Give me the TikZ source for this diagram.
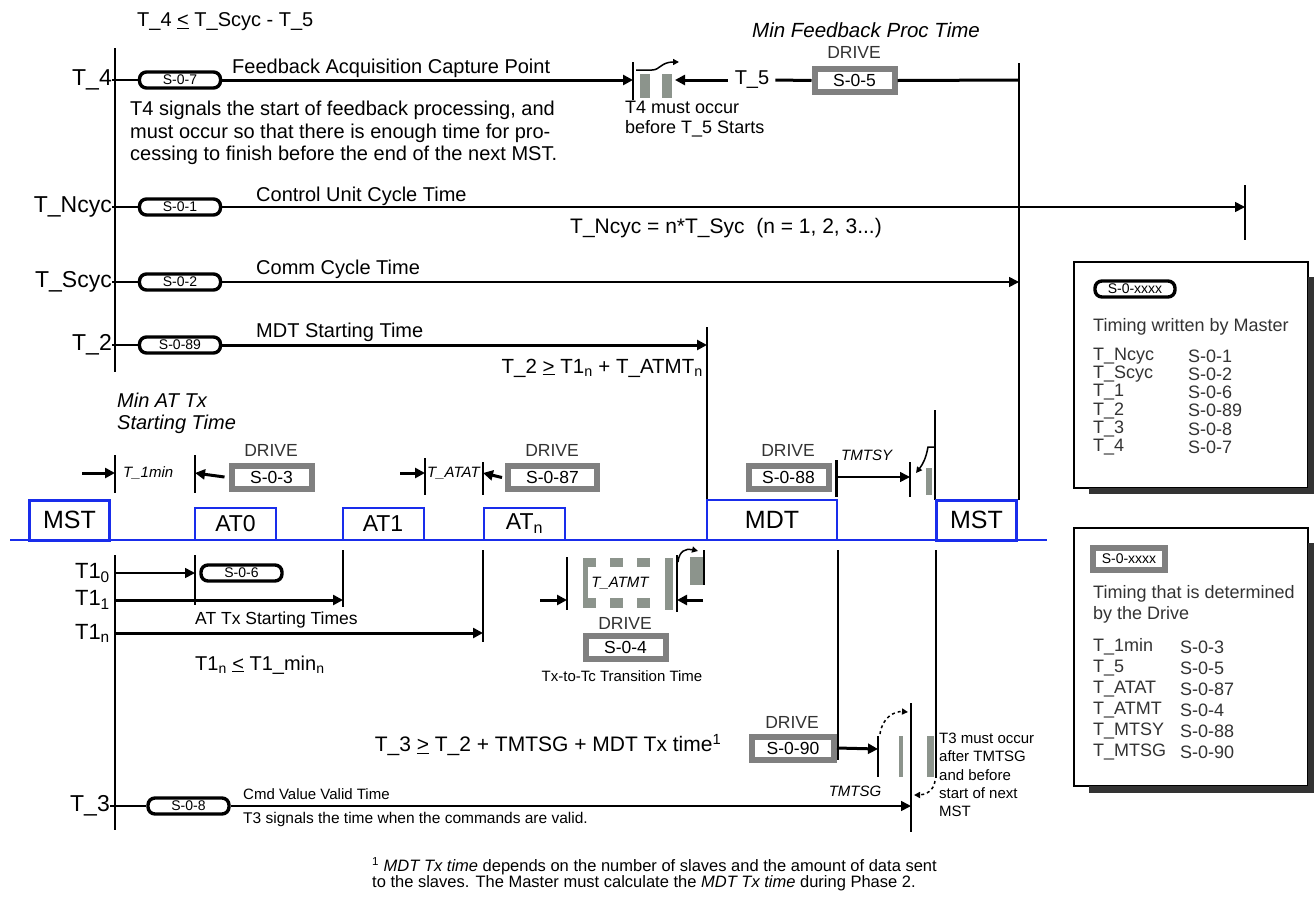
\documentclass[tikz,border=0pt]{standalone}
\usepackage{fontspec}
\setmainfont{Liberation Sans}
\usetikzlibrary{arrows.meta}
\definecolor{busblue}{RGB}{25,45,235}
\definecolor{drvgray}{RGB}{128,128,128}
\definecolor{blockgray}{RGB}{140,148,140}
\begin{document}
\begin{tikzpicture}[x=1pt, y=-1pt,
    lbl/.style={inner sep=0pt, anchor=east, font=\fontsize{23}{25}\selectfont},
    txt/.style={inner sep=0pt, anchor=west, font=\fontsize{20}{22.5}\selectfont},
    sml/.style={inner sep=0pt, anchor=west, font=\fontsize{15}{18}\selectfont},
    lgd/.style={inner sep=0pt, anchor=west, font=\fontsize{18}{21}\selectfont, text=black!80},
    ital/.style={inner sep=0pt, anchor=west, font=\fontsize{15}{17}\selectfont\itshape},
    drv/.style={inner sep=0pt, font=\fontsize{17.5}{18}\selectfont, text=black!80},
    badge/.style={draw, line width=3.4pt, rounded corners=7pt, minimum width=81pt, minimum height=16pt, inner sep=0pt, font=\fontsize{14}{14}\selectfont},
    drvbox/.style={draw=drvgray, line width=6pt, fill=white, minimum width=80pt, minimum height=23pt, inner sep=0pt, font=\fontsize{17.5}{18}\selectfont},
    frm/.style={draw=busblue, line width=2pt, inner sep=0pt, minimum width=81pt, minimum height=32pt, font=\fontsize{23}{23}\selectfont},
    mst/.style={frm, line width=3pt, minimum width=80pt, minimum height=40pt, font=\fontsize{25}{25}\selectfont},
    tk/.style={line width=2.4pt},
    tkl/.style={line width=1.5pt},
    thk/.style={line width=3pt, -{Triangle[length=10pt, width=10pt]}},
    thn/.style={line width=1.6pt, -{Triangle[length=10pt, width=10pt]}},
    curl/.style={line width=1.5pt, -{Triangle[length=6pt, width=6pt]}}]
  \useasboundingbox (0,0) rectangle (1314,911);
  \fill[white] (0,0) rectangle (1314,911);
  % 主时间轴
  \draw[tk] (115,48) -- (115,372);
  \draw[tk] (115,555) -- (115,830);
  \node[txt] (f45) at (137,22) {T\_4 \underline{<} T\_Scyc - T\_5};
  \node[txt, anchor=center, font=\fontsize{20.5}{22}\selectfont\itshape] (mfp) at (866,30) {Min Feedback Proc Time};
  % T_4
  \node[lbl] (l4) at (112,80) {T\_4};
  \node[badge] (b4) at (180,80) {S-0-7};
  \coordinate (k4) at (633,80);
  \draw[line width=2pt] (l4.east) -- (b4);
  \draw[thk] (b4) -- (k4);
  \draw[tk] (633,62) -- (633,100);
  \node[txt, anchor=base west] (n4) at (232,73) {Feedback Acquisition Capture Point};
  \fill[blockgray] (640,74) rectangle (650,98);
  \fill[blockgray] (662,74) rectangle (672,98);
  \draw[curl] (636,70) -- (652,70) .. controls (660,70) and (661,62) .. (679,62);
  \node[txt, anchor=north west, align=left, font=\fontsize{18}{20}\selectfont] (w4) at (625,101) {T4 must occur\\before T\_5 Starts};
  \node[txt, anchor=center] (t5) at (752,80) {T\_5};
  \coordinate (k5) at (675,80);
  \draw[thk] ([xshift=-7pt]t5.west) -- (k5);
  \node[drvbox] (d5) at (854.5,80.5) {S-0-5};
  \node[drv] (dr5) at (854,52) {DRIVE};
  \coordinate (r4) at (1019,80);
  \draw[line width=3pt] ([xshift=6pt]t5.east) -- (d5.west);
  \draw[line width=3pt] (d5.east) -- (r4);
  \draw[tk] (1019,63) -- (1019,500);
  \node[txt, anchor=north west, align=left] (s4) at (130,101) {T4 signals the start of feedback processing, and\\must occur so that there is enough time for pro-\\cessing to finish before the end of the next MST.};
  % T_Ncyc
  \node[lbl] (lN) at (112,207) {T\_Ncyc};
  \node[badge] (bN) at (180,207) {S-0-1};
  \coordinate (kN) at (1245,207);
  \draw[line width=1.6pt] (lN.east) -- (bN);
  \draw[thn] (bN) -- (kN);
  \draw[tk] (1245,185) -- (1245,240);
  \node[txt, anchor=base west] (nN) at (256,201) {Control Unit Cycle Time};
  \node[txt, font=\fontsize{21}{22}\selectfont] (fN) at (570,228) {T\_Ncyc = n*T\_Syc\ \ (n = 1, 2, 3...)};
  % T_Scyc
  \node[lbl] (lS) at (112,282) {T\_Scyc};
  \node[badge] (bS) at (180,282) {S-0-2};
  \coordinate (kS) at (1019,282);
  \draw[line width=1.6pt] (lS.east) -- (bS);
  \draw[thn] (bS) -- (kS);
  \node[txt, anchor=base west] (nS) at (256,274) {Comm Cycle Time};
  % T_2
  \node[lbl] (l2) at (112,345) {T\_2};
  \node[badge] (b2) at (180,345) {S-0-89};
  \coordinate (k2) at (707,345);
  \draw[line width=2pt] (l2.east) -- (b2);
  \draw[thk] (b2) -- (k2);
  \draw[tk] (707,327) -- (707,500);
  \node[txt, anchor=base west] (n2) at (256,337) {MDT Starting Time};
  \node[txt, anchor=east, font=\fontsize{20.5}{22}\selectfont] (f2) at (703,368) {T\_2 \underline{>} T1\textsubscript{n} + T\_ATMT\textsubscript{n}};
  % 总线上方
  \node[txt, anchor=north west, align=left, font=\fontsize{20}{22}\selectfont\itshape] (mat) at (117,393) {Min AT Tx\\Starting Time};
  \draw[tk] (115,455) -- (115,493);
  \coordinate (a1) at (82,473);
  \coordinate (k1a) at (115,473);
  \draw[thk] (a1) -- (k1a);
  \node[ital] (t1m) at (123,473) {T\_1min};
  \draw[tk] (195,455) -- (195,493);
  \coordinate (k1b) at (195,473);
  \node[drvbox] (d3) at (271.5,477) {S-0-3};
  \node[drv] (dr3) at (271,450) {DRIVE};
  \draw[thk] ([xshift=-4pt]d3.west) -- (k1b);
  \coordinate (a2) at (400,473);
  \coordinate (k2a) at (425,473);
  \draw[thk] (a2) -- (k2a);
  \draw[tkl] (425,458) -- (425,495);
  \node[ital] (tat) at (427,473) {T\_ATAT};
  \draw[tkl] (483,462) -- (483,495);
  \coordinate (k2b) at (483,473);
  \node[drvbox, minimum width=89pt] (d87) at (552.5,477.5) {S-0-87};
  \node[drv] (dr87) at (552,450) {DRIVE};
  \draw[thk] ([xshift=-3pt]d87.west) -- (k2b);
  \node[drvbox] (d88) at (788.5,477.5) {S-0-88};
  \node[drv] (dr88) at (788,450) {DRIVE};
  \draw[line width=3pt] (836,460) -- (836,497);
  \coordinate (k3a) at (836,477);
  \coordinate (k3b) at (910,477);
  \draw[thn, line width=1.5pt] (k3a) -- (k3b);
  \draw[tk] (910,462) -- (910,497);
  \node[ital] (tsy) at (841,455) {TMTSY};
  \fill[blockgray] (926,468) rectangle (932,495);
  \draw[tk] (935,410) -- (935,500);
  \draw[curl] (935,447) -- (928,447) .. controls (926,458) and (923,464) .. (916,473);
  % 总线与报文
  \draw[busblue, line width=2.5pt] (10,540) -- (1047,540);
  \node[mst] (ms1) at (69.5,520) {MST};
  \node[frm] (at0) at (235.5,523.5) {AT0};
  \node[frm] (at1) at (383,523.5) {AT1};
  \node[frm] (atn) at (524.5,523.5) {AT\textsubscript{n}};
  \node[frm, minimum width=130pt, minimum height=40pt, font=\fontsize{25}{25}\selectfont] (mdt) at (772,520) {MDT};
  \node[mst] (ms2) at (976.5,520) {MST};
  % T1 各行
  \node[lbl, font=\fontsize{22}{24}\selectfont] (l10) at (110,573) {T1\textsubscript{0}};
  \coordinate (m10) at (115,573);
  \coordinate (k10) at (195,573);
  \draw[thn] (m10) -- (k10);
  \draw[tkl] (195,555) -- (195,605);
  \node[badge] (b6) at (241.5,573) {S-0-6};
  \node[lbl, font=\fontsize{22}{24}\selectfont] (l11) at (110,600) {T1\textsubscript{1}};
  \coordinate (m11) at (115,600);
  \coordinate (k11) at (343,600);
  \draw[thk] (m11) -- (k11);
  \draw[tk] (343,550) -- (343,607);
  \node[lbl, font=\fontsize{22}{24}\selectfont] (l1n) at (110,633) {T1\textsubscript{n}};
  \coordinate (m1n) at (115,633);
  \coordinate (k1n) at (483,633);
  \draw[thk] (m1n) -- (k1n);
  \draw[tk] (483,550) -- (483,642);
  \node[txt, font=\fontsize{17.5}{20}\selectfont] (atx) at (195,620) {AT Tx Starting Times};
  \node[txt] (f1) at (195,665) {T1\textsubscript{n} \underline{<} T1\_min\textsubscript{n}};
  % T_ATMT
  \coordinate (a4) at (540,600);
  \coordinate (k4a) at (567,600);
  \draw[thk] (a4) -- (k4a);
  \draw[tk] (567,557) -- (567,610);
  \foreach \x in {583,610,637} {
    \fill[blockgray] (\x,558) rectangle ++(13,9);
    \fill[blockgray] (\x,598) rectangle ++(13,10);
  }
  \fill[blockgray] (583,567) rectangle (588,598);
  \node[ital, anchor=center] (tam) at (620,583) {T\_ATMT};
  \fill[blockgray] (665,558) rectangle (673,610);
  \draw[tk] (677,555) -- (677,612);
  \coordinate (a5) at (703,600);
  \coordinate (k4b) at (677,600);
  \draw[thk] (a5) -- (k4b);
  \fill[blockgray] (690,557) rectangle (703,585);
  \draw[tk] (704,550) -- (704,585);
  \draw[curl] (678,562) .. controls (679,551) and (686,548) .. (698,551);
  \node[drv] (dr4) at (625,623) {DRIVE};
  \node[drvbox] (d4) at (625.5,647.5) {S-0-4};
  \node[sml, anchor=center] (ttc) at (622,676) {Tx-to-Tc Transition Time};
  % MDT 之后
  \draw[tkl] (838,550) -- (838,760);
  \draw[tk] (936,550) -- (936,778);
  \node[txt, anchor=center, font=\fontsize{21}{22}\selectfont] (f3) at (548,745) {T\_3 \underline{>} T\_2 + TMTSG + MDT Tx time\textsuperscript{1}};
  \node[drv] (dr90) at (792,722) {DRIVE};
  \node[drvbox, minimum width=82pt] (d90) at (793,748) {S-0-90};
  \coordinate (k90) at (878,749);
  \draw[thk] (d90.east) -- (k90);
  \draw[tk] (878,736) -- (878,777);
  \node[ital, anchor=center] (tsg) at (855,791) {TMTSG};
  \fill[blockgray] (899,736) rectangle (903,777);
  \draw[curl, dashed] (880,734) .. controls (882,718) and (894,711) .. (908,712);
  \draw[tk] (911,703) -- (911,832);
  \fill[blockgray] (927,736) rectangle (934,777);
  \draw[curl, dashed] (935,781) .. controls (934,790) and (926,795) .. (914,795);
  \node[sml, anchor=north west, align=left, font=\fontsize{15}{18.3}\selectfont] (w3) at (939,733) {T3 must occur\\after TMTSG\\and before\\start of next\\MST};
  % T_3
  \node[lbl] (l3) at (110,806) {T\_3};
  \node[badge] (b8) at (188.5,806) {S-0-8};
  \coordinate (k3) at (911,806);
  \draw[line width=1.6pt] (l3.east) -- (b8);
  \draw[thn] (b8) -- (k3);
  \node[sml] (n3) at (243,794) {Cmd Value Valid Time};
  \node[sml, font=\fontsize{15.5}{18}\selectfont] (s3) at (243,819) {T3 signals the time when the commands are valid.};
  % 图例
  \draw[line width=1.5pt, fill=white] (1074,262) rectangle (1308,488);
  \fill[black!80] (1089,488) rectangle (1314,494);
  \fill[black!80] (1308,277) rectangle (1314,494);
  \node[badge, minimum width=80pt] (lg1) at (1135,289) {S-0-xxxx};
  \node[lgd] (lt1) at (1093,327) {Timing written by Master};
  \foreach \a/\b [count=\i from 0] in {T\_Ncyc/S-0-1, T\_Scyc/S-0-2, T\_1/S-0-6, T\_2/S-0-89, T\_3/S-0-8, T\_4/S-0-7} {
    \node[lgd] at (1093,{356+18.2*\i}) {\a};
    \node[lgd] at (1188,{356+18.2*\i}) {\b};
  }
  \draw[line width=1.5pt, fill=white] (1074,528) rectangle (1308,786);
  \fill[black!80] (1089,786) rectangle (1314,793);
  \fill[black!80] (1308,543) rectangle (1314,793);
  \node[drvbox, minimum width=72pt, minimum height=22pt, font=\fontsize{14}{14}\selectfont] (lg2) at (1129,559) {S-0-xxxx};
  \node[lgd, anchor=north west, align=left] (lt2) at (1093,585) {Timing that is determined\\by the Drive};
  \foreach \a/\b [count=\i from 0] in {T\_1min/S-0-3, T\_5/S-0-5, T\_ATAT/S-0-87, T\_ATMT/S-0-4, T\_MTSY/S-0-88, T\_MTSG/S-0-90} {
    \node[lgd] at (1093,{647+21*\i}) {\a};
    \node[lgd] at (1180,{647+21*\i}) {\b};
  }
  % 脚注
  \node[sml, font=\fontsize{16.5}{18}\selectfont] (fn1) at (372,866) {\textsuperscript{1} \textit{MDT Tx time} depends on the number of slaves and the amount of data sent};
  \node[sml, font=\fontsize{16.5}{18}\selectfont] (fn2) at (372,883) {to the slaves. The Master must calculate the \textit{MDT Tx time} during Phase 2.};
\end{tikzpicture}
\end{document}
